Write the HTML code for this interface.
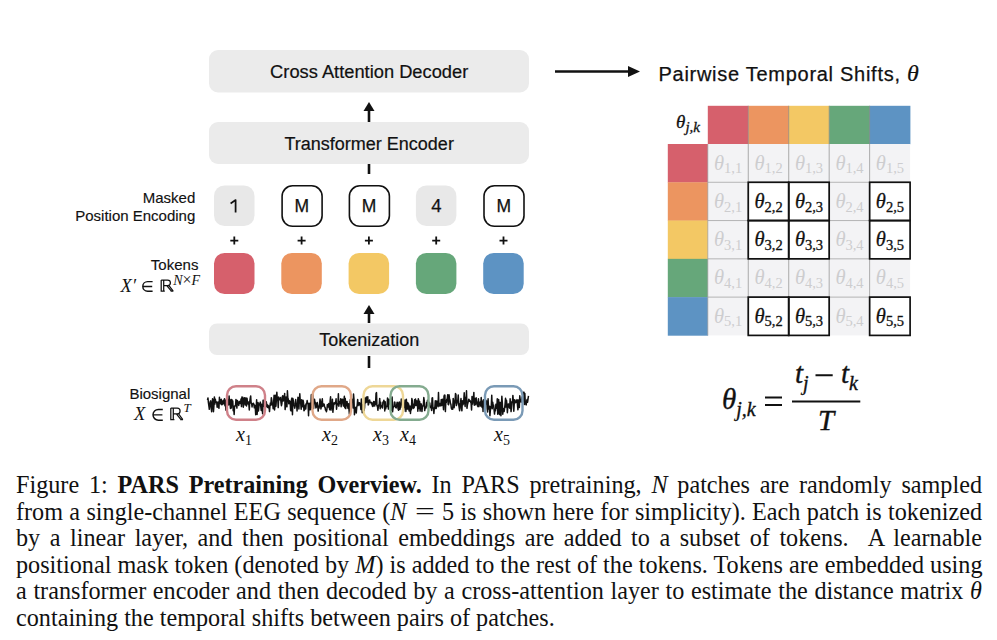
<!DOCTYPE html>
<html><head><meta charset="utf-8"><style>
html,body{margin:0;padding:0;background:#fff;width:997px;height:640px;overflow:hidden;position:relative}
.cap{position:absolute;left:16px;width:966px;font-family:"Liberation Serif",serif;font-size:24.2px;color:#111;text-align:justify;text-align-last:justify;white-space:nowrap;line-height:26.5px}
svg{position:absolute;left:0;top:0}
</style></head><body>
<svg width="997" height="640" viewBox="0 0 997 640">
<rect x="209" y="50" width="320" height="42.5" rx="9" fill="#ebebeb" stroke="none" stroke-width="0"/>
<rect x="209" y="122" width="320" height="42" rx="9" fill="#ebebeb" stroke="none" stroke-width="0"/>
<rect x="209" y="323.5" width="320" height="31.5" rx="8" fill="#ebebeb" stroke="none" stroke-width="0"/>
<line x1="369" y1="122" x2="369" y2="108" stroke="#111" stroke-width="2.6"/><polygon points="363.5,111 374.5,111 369,102" fill="#111"/>
<line x1="369" y1="164" x2="369" y2="174" stroke="#111" stroke-width="2.6"/>
<line x1="369" y1="323" x2="369" y2="311" stroke="#111" stroke-width="2.6"/><polygon points="363.5,314 374.5,314 369,305" fill="#111"/>
<line x1="369" y1="356" x2="369" y2="368" stroke="#111" stroke-width="2.6"/>
<line x1="555" y1="71.5" x2="630" y2="71.5" stroke="#111" stroke-width="2.6"/>
<polygon points="628,66 640,71.5 628,77" fill="#111"/>
<rect x="214.0" y="185.5" width="40.5" height="40.5" rx="10.5" fill="#e8e8e8" stroke="none" stroke-width="0"/>
<path d="M230.6,203.4 L235.6,200.1 V212.6" fill="none" stroke="#111" stroke-width="1.75" stroke-linejoin="round"/>
<path d="M230.3,240.6H238.3M234.3,236.6V244.6" stroke="#111" stroke-width="1.8"/>
<rect x="214.0" y="253" width="40.5" height="41" rx="10.5" fill="#d6606c" stroke="none" stroke-width="0"/>
<rect x="282.1" y="185.8" width="40" height="40.5" rx="10.5" fill="#fff" stroke="#111" stroke-width="1.6"/>
<text x="301.8" y="212.3" text-anchor="middle" font-family="Liberation Sans" font-size="17.5" fill="#111" stroke="#111" stroke-width="0.25">M</text>
<path d="M297.6,240.6H305.6M301.6,236.6V244.6" stroke="#111" stroke-width="1.8"/>
<rect x="281.3" y="253" width="40.5" height="41" rx="10.5" fill="#ec9560" stroke="none" stroke-width="0"/>
<rect x="349.40000000000003" y="185.8" width="40" height="40.5" rx="10.5" fill="#fff" stroke="#111" stroke-width="1.6"/>
<text x="369.1" y="212.3" text-anchor="middle" font-family="Liberation Sans" font-size="17.5" fill="#111" stroke="#111" stroke-width="0.25">M</text>
<path d="M364.90000000000003,240.6H372.90000000000003M368.90000000000003,236.6V244.6" stroke="#111" stroke-width="1.8"/>
<rect x="348.6" y="253" width="40.5" height="41" rx="10.5" fill="#f3c864" stroke="none" stroke-width="0"/>
<rect x="415.9" y="185.5" width="40.5" height="40.5" rx="10.5" fill="#e8e8e8" stroke="none" stroke-width="0"/>
<text x="436.4" y="212.3" text-anchor="middle" font-family="Liberation Sans" font-size="18.5" fill="#111" stroke="#111" stroke-width="0.25">4</text>
<path d="M432.2,240.6H440.2M436.2,236.6V244.6" stroke="#111" stroke-width="1.8"/>
<rect x="415.9" y="253" width="40.5" height="41" rx="10.5" fill="#66a77a" stroke="none" stroke-width="0"/>
<rect x="484.0" y="185.8" width="40" height="40.5" rx="10.5" fill="#fff" stroke="#111" stroke-width="1.6"/>
<text x="503.7" y="212.3" text-anchor="middle" font-family="Liberation Sans" font-size="17.5" fill="#111" stroke="#111" stroke-width="0.25">M</text>
<path d="M499.5,240.6H507.5M503.5,236.6V244.6" stroke="#111" stroke-width="1.8"/>
<rect x="483.2" y="253" width="40.5" height="41" rx="10.5" fill="#5d93c3" stroke="none" stroke-width="0"/>
<polyline points="207.50,400.1 207.96,397.9 208.42,402.7 208.88,406.0 209.34,409.3 209.80,404.6 210.26,401.5 210.71,400.8 211.17,407.6 211.63,411.7 212.09,405.6 212.55,398.8 213.01,400.1 213.47,411.7 213.93,405.6 214.39,396.9 214.85,404.1 215.31,399.2 215.77,401.6 216.23,402.5 216.68,402.0 217.14,407.3 217.60,404.8 218.06,402.1 218.52,406.4 218.98,408.3 219.44,397.3 219.90,403.2 220.36,400.0 220.82,403.9 221.28,399.2 221.74,404.7 222.20,404.5 222.65,403.2 223.11,400.5 223.57,403.7 224.03,400.4 224.49,398.8 224.95,405.7 225.41,400.3 225.87,410.1 226.33,408.2 226.79,395.7 227.25,405.4 227.71,399.4 228.17,404.7 228.62,404.9 229.08,395.9 229.54,403.4 230.00,403.0 230.46,408.4 230.92,399.4 231.38,407.9 231.84,399.5 232.30,402.8 232.76,400.9 233.22,410.8 233.68,406.4 234.14,414.4 234.59,405.9 235.05,406.2 235.51,405.9 235.97,399.4 236.43,401.9 236.89,408.1 237.35,400.5 237.81,403.5 238.27,402.4 238.73,405.4 239.19,401.3 239.65,402.0 240.11,403.6 240.56,403.2 241.02,399.1 241.48,406.6 241.94,397.0 242.40,397.6 242.86,397.3 243.32,407.3 243.78,401.0 244.24,398.5 244.70,397.7 245.16,404.9 245.62,398.5 246.08,398.0 246.53,406.0 246.99,398.2 247.45,402.1 247.91,403.9 248.37,402.0 248.83,404.0 249.29,410.0 249.75,401.7 250.21,398.4 250.67,395.9 251.13,403.2 251.59,403.0 252.05,406.9 252.50,403.9 252.96,404.3 253.42,403.3 253.88,404.6 254.34,407.8 254.80,405.3 255.26,407.1 255.72,414.8 256.18,408.3 256.64,399.7 257.10,414.5 257.56,407.9 258.02,402.4 258.47,410.9 258.93,406.7 259.39,403.8 259.85,403.8 260.31,402.1 260.77,406.4 261.23,410.5 261.69,404.3 262.15,407.5 262.61,413.8 263.07,400.2 263.53,406.5 263.98,403.8 264.44,399.7 264.90,400.5 265.36,404.9 265.82,406.2 266.28,401.8 266.74,404.6 267.20,407.2 267.66,405.0 268.12,407.7 268.58,406.1 269.04,406.2 269.50,411.6 269.95,406.0 270.41,402.9 270.87,405.2 271.33,397.7 271.79,400.1 272.25,404.7 272.71,404.5 273.17,408.7 273.63,402.0 274.09,395.2 274.55,409.9 275.01,405.4 275.47,395.2 275.92,406.3 276.38,400.3 276.84,392.2 277.30,399.0 277.76,398.6 278.22,407.6 278.68,397.1 279.14,399.6 279.60,399.7 280.06,399.2 280.52,397.4 280.98,402.3 281.44,405.7 281.89,403.7 282.35,396.6 282.81,395.7 283.27,401.0 283.73,397.3 284.19,398.3 284.65,393.5 285.11,409.6 285.57,405.1 286.03,397.0 286.49,404.8 286.95,406.8 287.41,390.8 287.86,398.0 288.32,399.0 288.78,403.8 289.24,401.1 289.70,400.8 290.16,401.6 290.62,410.1 291.08,410.9 291.54,399.3 292.00,398.1 292.46,414.7 292.92,398.6 293.38,400.8 293.83,404.2 294.29,405.9 294.75,408.2 295.21,405.5 295.67,399.5 296.13,405.5 296.59,404.3 297.05,410.9 297.51,403.0 297.97,397.3 298.43,398.4 298.89,408.9 299.35,400.0 299.80,393.8 300.26,401.0 300.72,403.5 301.18,409.2 301.64,399.7 302.10,406.8 302.56,406.5 303.02,400.2 303.48,402.2 303.94,410.7 304.40,410.2 304.86,407.1 305.32,404.9 305.77,409.0 306.23,403.6 306.69,403.7 307.15,400.5 307.61,403.6 308.07,403.5 308.53,415.8 308.99,403.2 309.45,409.7 309.91,409.8 310.37,403.1 310.83,409.4 311.29,394.7 311.74,404.4 312.20,407.6 312.66,393.3 313.12,399.1 313.58,408.5 314.04,402.6 314.50,399.2 314.96,402.7 315.42,402.4 315.88,408.0 316.34,407.2 316.80,403.9 317.26,402.5 317.71,405.5 318.17,411.1 318.63,406.5 319.09,408.1 319.55,404.3 320.01,399.1 320.47,402.2 320.93,409.0 321.39,406.2 321.85,401.8 322.31,398.8 322.77,406.4 323.23,404.2 323.68,403.9 324.14,404.1 324.60,407.0 325.06,407.3 325.52,410.0 325.98,410.3 326.44,411.7 326.90,409.5 327.36,404.5 327.82,405.5 328.28,407.1 328.74,403.6 329.20,406.9 329.65,409.7 330.11,401.2 330.57,396.8 331.03,410.1 331.49,404.7 331.95,408.2 332.41,399.2 332.87,412.3 333.33,407.9 333.79,403.9 334.25,402.6 334.71,404.0 335.17,403.1 335.62,402.6 336.08,398.8 336.54,409.3 337.00,403.8 337.46,404.3 337.92,404.7 338.38,393.8 338.84,406.2 339.30,402.2 339.76,402.0 340.22,403.4 340.68,398.8 341.14,406.8 341.59,400.3 342.05,399.3 342.51,399.2 342.97,403.8 343.43,406.1 343.89,400.7 344.35,396.3 344.81,407.8 345.27,398.6 345.73,408.6 346.19,403.6 346.65,401.6 347.11,401.6 347.56,406.2 348.02,408.3 348.48,403.7 348.94,409.0 349.40,414.2 349.86,404.2 350.32,399.6 350.78,399.9 351.24,398.8 351.70,401.9 352.16,402.0 352.62,399.3 353.08,407.9 353.53,394.0 353.99,399.6 354.45,414.7 354.91,410.3 355.37,407.8 355.83,407.4 356.29,412.9 356.75,407.2 357.21,405.1 357.67,399.6 358.13,405.5 358.59,402.9 359.05,403.1 359.50,402.7 359.96,405.5 360.42,404.4 360.88,409.4 361.34,399.1 361.80,404.1 362.26,412.7 362.72,405.0 363.18,410.1 363.64,409.8 364.10,410.6 364.56,407.5 365.02,397.9 365.47,402.7 365.93,402.5 366.39,397.1 366.85,402.1 367.31,398.4 367.77,396.8 368.23,405.0 368.69,404.1 369.15,401.3 369.61,400.0 370.07,402.4 370.53,402.6 370.98,402.4 371.44,403.9 371.90,402.5 372.36,405.9 372.82,406.4 373.28,405.9 373.74,401.4 374.20,401.7 374.66,406.0 375.12,403.5 375.58,404.1 376.04,393.4 376.50,392.6 376.95,405.9 377.41,405.6 377.87,410.3 378.33,407.1 378.79,404.9 379.25,404.3 379.71,398.4 380.17,408.8 380.63,402.2 381.09,406.9 381.55,405.9 382.01,405.6 382.47,408.0 382.92,402.0 383.38,402.4 383.84,400.3 384.30,402.1 384.76,411.0 385.22,401.8 385.68,408.8 386.14,406.7 386.60,406.3 387.06,406.4 387.52,398.1 387.98,404.1 388.44,409.1 388.89,399.3 389.35,402.6 389.81,400.0 390.27,404.5 390.73,398.4 391.19,410.3 391.65,401.6 392.11,396.9 392.57,411.8 393.03,408.4 393.49,406.4 393.95,406.7 394.41,402.1 394.86,402.3 395.32,406.5 395.78,407.6 396.24,407.9 396.70,404.9 397.16,402.2 397.62,403.3 398.08,409.1 398.54,410.3 399.00,402.4 399.46,402.0 399.92,409.4 400.38,407.4 400.83,407.3 401.29,399.0 401.75,403.3 402.21,403.0 402.67,406.4 403.13,398.4 403.59,411.4 404.05,407.0 404.51,407.2 404.97,400.1 405.43,405.3 405.89,411.5 406.35,399.2 406.80,407.4 407.26,409.1 407.72,402.4 408.18,409.0 408.64,404.0 409.10,410.9 409.56,407.6 410.02,406.0 410.48,413.4 410.94,408.0 411.40,409.7 411.86,398.6 412.32,400.6 412.77,407.8 413.23,408.4 413.69,404.2 414.15,407.7 414.61,399.7 415.07,405.4 415.53,399.0 415.99,405.6 416.45,401.8 416.91,400.9 417.37,403.8 417.83,411.3 418.29,398.7 418.74,400.5 419.20,408.5 419.66,401.6 420.12,411.1 420.58,404.2 421.04,403.7 421.50,405.1 421.96,411.4 422.42,406.6 422.88,406.2 423.34,405.3 423.80,397.5 424.26,400.6 424.71,410.6 425.17,407.9 425.63,406.8 426.09,407.9 426.55,402.6 427.01,405.8 427.47,400.2 427.93,405.9 428.39,401.3 428.85,402.9 429.31,405.8 429.77,403.0 430.23,407.6 430.68,407.0 431.14,406.4 431.60,410.5 432.06,398.1 432.52,397.7 432.98,407.7 433.44,409.0 433.90,413.5 434.36,407.7 434.82,407.8 435.28,400.8 435.74,408.6 436.20,408.5 436.65,401.0 437.11,401.7 437.57,404.7 438.03,406.7 438.49,392.6 438.95,405.8 439.41,405.9 439.87,403.4 440.33,405.1 440.79,405.9 441.25,399.5 441.71,405.4 442.17,402.4 442.62,399.2 443.08,404.4 443.54,409.7 444.00,396.3 444.46,395.1 444.92,395.3 445.38,411.6 445.84,401.9 446.30,402.4 446.76,399.2 447.22,399.2 447.68,394.8 448.14,404.2 448.59,404.7 449.05,394.8 449.51,398.8 449.97,400.0 450.43,403.3 450.89,404.4 451.35,408.1 451.81,409.1 452.27,407.7 452.73,409.2 453.19,398.4 453.65,400.8 454.11,407.7 454.56,403.7 455.02,402.2 455.48,393.6 455.94,394.4 456.40,405.6 456.86,403.9 457.32,401.0 457.78,400.8 458.24,395.1 458.70,404.6 459.16,407.7 459.62,410.7 460.08,403.7 460.53,402.7 460.99,398.6 461.45,408.7 461.91,410.8 462.37,400.8 462.83,404.8 463.29,403.9 463.75,400.9 464.21,392.8 464.67,402.3 465.13,406.4 465.59,397.3 466.05,399.8 466.50,390.8 466.96,408.3 467.42,404.9 467.88,403.0 468.34,401.2 468.80,399.2 469.26,401.2 469.72,400.3 470.18,400.7 470.64,402.2 471.10,403.1 471.56,409.9 472.02,396.5 472.47,404.1 472.93,400.7 473.39,398.2 473.85,392.4 474.31,405.3 474.77,398.6 475.23,399.8 475.69,404.8 476.15,397.7 476.61,402.9 477.07,402.1 477.53,405.9 477.98,406.6 478.44,398.8 478.90,406.6 479.36,402.4 479.82,403.3 480.28,402.1 480.74,406.1 481.20,397.5 481.66,403.6 482.12,407.5 482.58,401.2 483.04,411.5 483.50,399.8 483.95,404.0 484.41,401.0 484.87,400.7 485.33,399.0 485.79,401.4 486.25,403.9 486.71,400.9 487.17,409.0 487.63,412.0 488.09,398.7 488.55,409.1 489.01,406.1 489.47,406.4 489.92,415.7 490.38,410.3 490.84,406.5 491.30,405.8 491.76,395.2 492.22,408.7 492.68,402.2 493.14,405.6 493.60,405.0 494.06,409.4 494.52,414.1 494.98,409.4 495.44,410.7 495.89,404.2 496.35,407.4 496.81,408.4 497.27,398.7 497.73,414.2 498.19,402.2 498.65,399.5 499.11,412.8 499.57,414.6 500.03,402.3 500.49,403.0 500.95,415.8 501.41,405.7 501.86,396.2 502.32,402.7 502.78,414.2 503.24,408.4 503.70,409.0 504.16,411.4 504.62,408.2 505.08,404.0 505.54,398.3 506.00,407.1 506.46,400.2 506.92,404.7 507.38,412.7 507.83,406.6 508.29,404.0 508.75,404.2 509.21,407.1 509.67,408.1 510.13,398.7 510.59,404.9 511.05,411.6 511.51,407.8 511.97,401.5 512.43,401.7 512.89,395.4 513.35,400.9 513.80,411.3 514.26,403.5 514.72,399.7 515.18,400.7 515.64,402.7 516.10,402.4 516.56,401.3 517.02,399.6 517.48,405.5 517.94,409.8 518.40,400.1 518.86,399.9 519.32,407.4 519.77,395.8 520.23,399.6 520.69,400.0 521.15,402.2 521.61,400.2 522.07,397.1 522.53,402.2 522.99,396.0 523.45,393.5 523.91,392.1 524.37,404.4 524.83,393.4 525.29,403.1 525.74,404.0 526.20,404.9 526.66,401.0 527.12,399.5 527.58,402.2 528.04,398.9 528.50,395.9" fill="none" stroke="#111" stroke-width="1.5" stroke-linejoin="round"/>
<rect x="227" y="386.3" width="38" height="33.5" rx="9" fill="none" stroke="#cf8189" stroke-width="2.4"/>
<rect x="312.5" y="386.3" width="38.5" height="33.5" rx="9" fill="none" stroke="#e0a888" stroke-width="2.4"/>
<rect x="363.5" y="386.3" width="39.5" height="33.5" rx="9" fill="none" stroke="#eed797" stroke-width="2.4"/>
<rect x="390.5" y="386.3" width="38" height="33.5" rx="9" fill="none" stroke="#84ab8f" stroke-width="2.4"/>
<rect x="485" y="386.3" width="37.5" height="33.5" rx="9" fill="none" stroke="#7a9ab6" stroke-width="2.4"/>
<text x="244" y="441" text-anchor="middle" font-family="Liberation Serif" font-size="20" fill="#111"><tspan font-style="italic">x</tspan><tspan font-size="14" dy="4">1</tspan></text>
<text x="330" y="441" text-anchor="middle" font-family="Liberation Serif" font-size="20" fill="#111"><tspan font-style="italic">x</tspan><tspan font-size="14" dy="4">2</tspan></text>
<text x="381" y="441" text-anchor="middle" font-family="Liberation Serif" font-size="20" fill="#111"><tspan font-style="italic">x</tspan><tspan font-size="14" dy="4">3</tspan></text>
<text x="408" y="441" text-anchor="middle" font-family="Liberation Serif" font-size="20" fill="#111"><tspan font-style="italic">x</tspan><tspan font-size="14" dy="4">4</tspan></text>
<text x="502" y="441" text-anchor="middle" font-family="Liberation Serif" font-size="20" fill="#111"><tspan font-style="italic">x</tspan><tspan font-size="14" dy="4">5</tspan></text>
<rect x="707.8" y="105.8" width="40.76000000000003" height="38.4" fill="#d6606c"/>
<rect x="667.8" y="144.0" width="40.3" height="38.58" fill="#d6606c"/>
<rect x="748.26" y="105.8" width="40.75999999999992" height="38.4" fill="#ec9560"/>
<rect x="667.8" y="182.28" width="40.3" height="38.58" fill="#ec9560"/>
<rect x="788.7199999999999" y="105.8" width="40.76000000000003" height="38.4" fill="#f3c864"/>
<rect x="667.8" y="220.56" width="40.3" height="38.58000000000003" fill="#f3c864"/>
<rect x="829.18" y="105.8" width="40.76000000000003" height="38.4" fill="#66a77a"/>
<rect x="667.8" y="258.84000000000003" width="40.3" height="38.57999999999997" fill="#66a77a"/>
<rect x="869.64" y="105.8" width="40.75999999999992" height="38.4" fill="#5d93c3"/>
<rect x="667.8" y="297.12" width="40.3" height="38.57999999999997" fill="#5d93c3"/>
<rect x="707.8" y="144" width="202.3" height="191.4" fill="#f3f3f5"/><rect x="869.64" y="297.12" width="40.46" height="38.28" fill="#fff"/><rect x="869.64" y="220.56" width="40.46" height="38.28" fill="#fff"/><rect x="788.7199999999999" y="182.28" width="40.46" height="38.28" fill="#fff"/><rect x="748.26" y="220.56" width="40.46" height="38.28" fill="#fff"/><rect x="748.26" y="182.28" width="40.46" height="38.28" fill="#fff"/><rect x="869.64" y="182.28" width="40.46" height="38.28" fill="#fff"/><rect x="788.7199999999999" y="297.12" width="40.46" height="38.28" fill="#fff"/><rect x="788.7199999999999" y="220.56" width="40.46" height="38.28" fill="#fff"/><rect x="748.26" y="297.12" width="40.46" height="38.28" fill="#fff"/>
<line x1="748.26" y1="105.8" x2="748.26" y2="335.4" stroke="#8a8a8a" stroke-width="0.7"/>
<line x1="707.8" y1="182.28" x2="910" y2="182.28" stroke="#9a9a9a" stroke-width="0.7"/>
<line x1="788.7199999999999" y1="105.8" x2="788.7199999999999" y2="335.4" stroke="#8a8a8a" stroke-width="0.7"/>
<line x1="707.8" y1="220.56" x2="910" y2="220.56" stroke="#9a9a9a" stroke-width="0.7"/>
<line x1="829.18" y1="105.8" x2="829.18" y2="335.4" stroke="#8a8a8a" stroke-width="0.7"/>
<line x1="707.8" y1="258.84000000000003" x2="910" y2="258.84000000000003" stroke="#9a9a9a" stroke-width="0.7"/>
<line x1="869.64" y1="105.8" x2="869.64" y2="335.4" stroke="#8a8a8a" stroke-width="0.7"/>
<line x1="707.8" y1="297.12" x2="910" y2="297.12" stroke="#9a9a9a" stroke-width="0.7"/>
<line x1="707.8" y1="144" x2="707.8" y2="335.4" stroke="#9a9a9a" stroke-width="0.7"/>
<text x="728.0999999999999" y="169.5" text-anchor="middle" font-family="Liberation Serif" font-size="20.5" fill="#cdcdcf" stroke="#cdcdcf" stroke-width="0"><tspan font-style="italic">θ</tspan><tspan font-size="14.5" dy="3.8">1,1</tspan></text>
<text x="768.56" y="169.5" text-anchor="middle" font-family="Liberation Serif" font-size="20.5" fill="#cdcdcf" stroke="#cdcdcf" stroke-width="0"><tspan font-style="italic">θ</tspan><tspan font-size="14.5" dy="3.8">1,2</tspan></text>
<text x="809.0199999999999" y="169.5" text-anchor="middle" font-family="Liberation Serif" font-size="20.5" fill="#cdcdcf" stroke="#cdcdcf" stroke-width="0"><tspan font-style="italic">θ</tspan><tspan font-size="14.5" dy="3.8">1,3</tspan></text>
<text x="849.4799999999999" y="169.5" text-anchor="middle" font-family="Liberation Serif" font-size="20.5" fill="#cdcdcf" stroke="#cdcdcf" stroke-width="0"><tspan font-style="italic">θ</tspan><tspan font-size="14.5" dy="3.8">1,4</tspan></text>
<text x="889.9399999999999" y="169.5" text-anchor="middle" font-family="Liberation Serif" font-size="20.5" fill="#cdcdcf" stroke="#cdcdcf" stroke-width="0"><tspan font-style="italic">θ</tspan><tspan font-size="14.5" dy="3.8">1,5</tspan></text>
<text x="728.0999999999999" y="207.78" text-anchor="middle" font-family="Liberation Serif" font-size="20.5" fill="#cdcdcf" stroke="#cdcdcf" stroke-width="0"><tspan font-style="italic">θ</tspan><tspan font-size="14.5" dy="3.8">2,1</tspan></text>
<text x="768.56" y="207.78" text-anchor="middle" font-family="Liberation Serif" font-size="20.5" fill="#111" stroke="#111" stroke-width="0.3"><tspan font-style="italic">θ</tspan><tspan font-size="14.5" dy="3.8">2,2</tspan></text>
<text x="809.0199999999999" y="207.78" text-anchor="middle" font-family="Liberation Serif" font-size="20.5" fill="#111" stroke="#111" stroke-width="0.3"><tspan font-style="italic">θ</tspan><tspan font-size="14.5" dy="3.8">2,3</tspan></text>
<text x="849.4799999999999" y="207.78" text-anchor="middle" font-family="Liberation Serif" font-size="20.5" fill="#cdcdcf" stroke="#cdcdcf" stroke-width="0"><tspan font-style="italic">θ</tspan><tspan font-size="14.5" dy="3.8">2,4</tspan></text>
<text x="889.9399999999999" y="207.78" text-anchor="middle" font-family="Liberation Serif" font-size="20.5" fill="#111" stroke="#111" stroke-width="0.3"><tspan font-style="italic">θ</tspan><tspan font-size="14.5" dy="3.8">2,5</tspan></text>
<text x="728.0999999999999" y="246.06" text-anchor="middle" font-family="Liberation Serif" font-size="20.5" fill="#cdcdcf" stroke="#cdcdcf" stroke-width="0"><tspan font-style="italic">θ</tspan><tspan font-size="14.5" dy="3.8">3,1</tspan></text>
<text x="768.56" y="246.06" text-anchor="middle" font-family="Liberation Serif" font-size="20.5" fill="#111" stroke="#111" stroke-width="0.3"><tspan font-style="italic">θ</tspan><tspan font-size="14.5" dy="3.8">3,2</tspan></text>
<text x="809.0199999999999" y="246.06" text-anchor="middle" font-family="Liberation Serif" font-size="20.5" fill="#111" stroke="#111" stroke-width="0.3"><tspan font-style="italic">θ</tspan><tspan font-size="14.5" dy="3.8">3,3</tspan></text>
<text x="849.4799999999999" y="246.06" text-anchor="middle" font-family="Liberation Serif" font-size="20.5" fill="#cdcdcf" stroke="#cdcdcf" stroke-width="0"><tspan font-style="italic">θ</tspan><tspan font-size="14.5" dy="3.8">3,4</tspan></text>
<text x="889.9399999999999" y="246.06" text-anchor="middle" font-family="Liberation Serif" font-size="20.5" fill="#111" stroke="#111" stroke-width="0.3"><tspan font-style="italic">θ</tspan><tspan font-size="14.5" dy="3.8">3,5</tspan></text>
<text x="728.0999999999999" y="284.34000000000003" text-anchor="middle" font-family="Liberation Serif" font-size="20.5" fill="#cdcdcf" stroke="#cdcdcf" stroke-width="0"><tspan font-style="italic">θ</tspan><tspan font-size="14.5" dy="3.8">4,1</tspan></text>
<text x="768.56" y="284.34000000000003" text-anchor="middle" font-family="Liberation Serif" font-size="20.5" fill="#cdcdcf" stroke="#cdcdcf" stroke-width="0"><tspan font-style="italic">θ</tspan><tspan font-size="14.5" dy="3.8">4,2</tspan></text>
<text x="809.0199999999999" y="284.34000000000003" text-anchor="middle" font-family="Liberation Serif" font-size="20.5" fill="#cdcdcf" stroke="#cdcdcf" stroke-width="0"><tspan font-style="italic">θ</tspan><tspan font-size="14.5" dy="3.8">4,3</tspan></text>
<text x="849.4799999999999" y="284.34000000000003" text-anchor="middle" font-family="Liberation Serif" font-size="20.5" fill="#cdcdcf" stroke="#cdcdcf" stroke-width="0"><tspan font-style="italic">θ</tspan><tspan font-size="14.5" dy="3.8">4,4</tspan></text>
<text x="889.9399999999999" y="284.34000000000003" text-anchor="middle" font-family="Liberation Serif" font-size="20.5" fill="#cdcdcf" stroke="#cdcdcf" stroke-width="0"><tspan font-style="italic">θ</tspan><tspan font-size="14.5" dy="3.8">4,5</tspan></text>
<text x="728.0999999999999" y="322.62" text-anchor="middle" font-family="Liberation Serif" font-size="20.5" fill="#cdcdcf" stroke="#cdcdcf" stroke-width="0"><tspan font-style="italic">θ</tspan><tspan font-size="14.5" dy="3.8">5,1</tspan></text>
<text x="768.56" y="322.62" text-anchor="middle" font-family="Liberation Serif" font-size="20.5" fill="#111" stroke="#111" stroke-width="0.3"><tspan font-style="italic">θ</tspan><tspan font-size="14.5" dy="3.8">5,2</tspan></text>
<text x="809.0199999999999" y="322.62" text-anchor="middle" font-family="Liberation Serif" font-size="20.5" fill="#111" stroke="#111" stroke-width="0.3"><tspan font-style="italic">θ</tspan><tspan font-size="14.5" dy="3.8">5,3</tspan></text>
<text x="849.4799999999999" y="322.62" text-anchor="middle" font-family="Liberation Serif" font-size="20.5" fill="#cdcdcf" stroke="#cdcdcf" stroke-width="0"><tspan font-style="italic">θ</tspan><tspan font-size="14.5" dy="3.8">5,4</tspan></text>
<text x="889.9399999999999" y="322.62" text-anchor="middle" font-family="Liberation Serif" font-size="20.5" fill="#111" stroke="#111" stroke-width="0.3"><tspan font-style="italic">θ</tspan><tspan font-size="14.5" dy="3.8">5,5</tspan></text>
<rect x="748.26" y="182.28" width="40.46" height="38.28" fill="none" stroke="#111" stroke-width="1.7"/>
<rect x="788.7199999999999" y="182.28" width="40.46" height="38.28" fill="none" stroke="#111" stroke-width="1.7"/>
<rect x="869.64" y="182.28" width="40.46" height="38.28" fill="none" stroke="#111" stroke-width="1.7"/>
<rect x="748.26" y="220.56" width="40.46" height="38.28" fill="none" stroke="#111" stroke-width="1.7"/>
<rect x="788.7199999999999" y="220.56" width="40.46" height="38.28" fill="none" stroke="#111" stroke-width="1.7"/>
<rect x="869.64" y="220.56" width="40.46" height="38.28" fill="none" stroke="#111" stroke-width="1.7"/>
<rect x="748.26" y="297.12" width="40.46" height="38.28" fill="none" stroke="#111" stroke-width="1.7"/>
<rect x="788.7199999999999" y="297.12" width="40.46" height="38.28" fill="none" stroke="#111" stroke-width="1.7"/>
<rect x="869.64" y="297.12" width="40.46" height="38.28" fill="none" stroke="#111" stroke-width="1.7"/>
<text x="369.2" y="78.2" text-anchor="middle" font-family="Liberation Sans" font-size="18.3" fill="#111" stroke="#111" stroke-width="0.2">Cross Attention Decoder</text>
<text x="369.2" y="149.7" text-anchor="middle" font-family="Liberation Sans" font-size="18" fill="#111" stroke="#111" stroke-width="0.2">Transformer Encoder</text>
<text x="369.2" y="346" text-anchor="middle" font-family="Liberation Sans" font-size="18" fill="#111" stroke="#111" stroke-width="0.2">Tokenization</text>
<text x="195.3" y="202.5" text-anchor="end" font-family="Liberation Sans" font-size="15" fill="#111" stroke="#111" stroke-width="0.15">Masked</text>
<text x="195.3" y="220.5" text-anchor="end" font-family="Liberation Sans" font-size="15" fill="#111" stroke="#111" stroke-width="0.15">Position Encoding</text>
<text x="198.4" y="270" text-anchor="end" font-family="Liberation Sans" font-size="15" fill="#111" stroke="#111" stroke-width="0.15">Tokens</text>
<text x="120.6" y="291.5" font-family="Liberation Serif" font-size="18.5" font-style="italic" fill="#111">X′</text><path d="M152.60,281.60 H147.60 A4.80,4.80 0 0 0 147.60,291.20 H152.60 M143.10,286.40 H152.20" fill="none" stroke="#111" stroke-width="1.45"/><path d="M161.20,280.00 V291.20 M163.70,280.00 V291.20 M160.60,291.20 H164.80 M161.20,280.00 H167.60 A2.80,2.80 0 0 1 167.60,285.60 H163.70 M166.80,285.60 L171.40,291.20 M168.80,285.30 L173.20,291.20 M170.60,291.20 H173.40" fill="none" stroke="#111" stroke-width="1.25"/><text x="173.2" y="285.3" font-family="Liberation Serif" font-size="14" fill="#111"><tspan font-style="italic">N</tspan><tspan font-size="16">×</tspan><tspan font-style="italic">F</tspan></text>
<text x="190.3" y="398.5" text-anchor="end" font-family="Liberation Sans" font-size="15" fill="#111" stroke="#111" stroke-width="0.15">Biosignal</text>
<text x="134" y="419.7" font-family="Liberation Serif" font-size="18.5" font-style="italic" fill="#111">X</text><path d="M162.80,409.50 H158.35 A5.35,5.35 0 0 0 158.35,420.20 H162.80 M153.30,414.85 H162.40" fill="none" stroke="#111" stroke-width="1.45"/><path d="M170.80,408.00 V419.60 M173.30,408.00 V419.60 M170.20,419.60 H174.40 M170.80,408.00 H177.20 A2.90,2.90 0 0 1 177.20,413.80 H173.30 M176.40,413.80 L181.00,419.60 M178.40,413.50 L182.80,419.60 M180.20,419.60 H183.00" fill="none" stroke="#111" stroke-width="1.25"/><text x="183.6" y="412.3" font-family="Liberation Serif" font-size="13" font-style="italic" fill="#111">T</text>
<text x="658.5" y="80.8" font-family="Liberation Sans" font-size="20" letter-spacing="0.72" fill="#111" stroke="#111" stroke-width="0.25">Pairwise Temporal Shifts, <tspan font-family="Liberation Serif" font-style="italic" font-size="24" letter-spacing="0" stroke-width="0.2">θ</tspan></text>
<text x="688" y="127.9" text-anchor="middle" font-family="Liberation Serif" font-size="19" fill="#111" stroke="#111" stroke-width="0.3"><tspan font-style="italic">θ</tspan><tspan font-style="italic" font-size="15" dy="4.3">j,k</tspan></text>
<g stroke="#111" stroke-width="0.35">
<text x="722" y="408.7" font-family="Liberation Serif" font-size="29" fill="#111"><tspan font-style="italic">θ</tspan><tspan font-style="italic" font-size="20" dy="7">j,k</tspan></text>
<text x="795" y="383.4" font-family="Liberation Serif" font-size="29" fill="#111"><tspan font-style="italic">t</tspan><tspan font-style="italic" font-size="20" dy="7">j</tspan></text><text x="841" y="383.4" font-family="Liberation Serif" font-size="29" fill="#111"><tspan font-style="italic">t</tspan><tspan font-style="italic" font-size="20" dy="7">k</tspan></text>
<text x="826" y="430.3" text-anchor="middle" font-family="Liberation Serif" font-size="29" font-style="italic" fill="#111">T</text>
</g>
<path d="M765,397.5H782M765,405H782M815.5,375.3H832.7" stroke="#111" stroke-width="2"/>
<line x1="792" y1="401.5" x2="860.3" y2="401.5" stroke="#111" stroke-width="1.9"/>
</svg>
<div class="cap" style="top:472.3px">Figure 1: <b>PARS Pretraining Overview.</b> In PARS pretraining, <i>N</i> patches are randomly sampled</div>
<div class="cap" style="top:498.8px">from a single-channel EEG sequence (<i>N</i>&thinsp; <span style="display:inline-block;width:18px;text-align:center"><span style="display:inline-block;transform:scaleX(1.45)">=</span></span> 5 is shown here for simplicity). Each patch is tokenized</div>
<div class="cap" style="top:525.3px">by a linear layer, and then positional embeddings are added to a subset of tokens. &nbsp;A learnable</div>
<div class="cap" style="top:551.8px">positional mask token (denoted by <i>M</i>) is added to the rest of the tokens. Tokens are embedded using</div>
<div class="cap" style="top:578.3px">a transformer encoder and then decoded by a cross-attention layer to estimate the distance matrix <i>θ</i></div>
<div class="cap" style="top:604.8px;text-align-last:left">containing the temporal shifts between pairs of patches.</div>
</body></html>
